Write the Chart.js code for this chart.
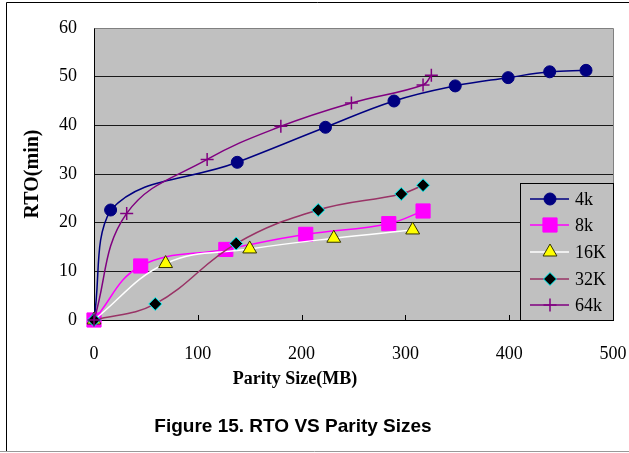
<!DOCTYPE html>
<html>
<head>
<meta charset="utf-8">
<script src="https://cdn.jsdelivr.net/npm/chart.js@4.4.0/dist/chart.umd.min.js"></script>
<style>
    html, body { margin: 0; padding: 0; background: #fff; }
    canvas { display: block; }
</style>
</head>
<body>
<canvas id="rtoChart" width="629" height="453"></canvas>
<script>
// Values (parity size in MB, RTO in minutes)
const seriesNames = ['4k', '8k', '16K', '32K', '64k'];

const size4k = [0, 16, 138, 223, 289, 348, 399, 439, 474];
const rto4k = [0, 22.6, 32.4, 39.6, 45.0, 48.1, 49.8, 51.0, 51.3];

const size8k = [0, 45, 127, 204, 284, 317];
const rto8k = [0, 11.1, 14.5, 17.6, 19.8, 22.4];

const size16k = [0, 69, 150, 231, 307];
const rto16k = [0, 11.6, 14.6, 16.8, 18.5];

const size32k = [0, 59, 137, 216, 296, 317];
const rto32k = [0, 3.3, 15.7, 22.6, 25.9, 27.7];

const size64k = [0, 31.5, 109, 180, 248, 317, 325];
const rto64k = [0, 21.9, 33.0, 39.8, 44.6, 48.3, 50.3];

const xTicks = [0, 100, 200, 300, 400, 500];
const yTicks = [0, 10, 20, 30, 40, 50, 60];

const xTitleText = 'Parity Size(MB)';
const captionText = 'Figure 15. RTO VS Parity Sizes';

function toPoints(xs, ys) {
    return xs.map((x, i) => ({ x: x, y: ys[i] }));
}

// Excel-like styles per series
const styles = [
    { line: '#000080', fill: '#000080', edge: '#000080', shape: 'circle', r: 6, bw: 1 },
    { line: '#FF00FF', fill: '#FF00FF', edge: '#FF00FF', shape: 'rect', r: 10, bw: 1 },
    { line: '#FFFFFF', fill: '#FFFF00', edge: '#333300', shape: 'triangle', r: 8, bw: 1 },
    { line: '#993366', fill: '#000000', edge: '#00FFFF', shape: 'rectRot', r: 6.5, bw: 1 },
    { line: '#800080', fill: '#800080', edge: '#800080', shape: 'cross', r: 6.5, bw: 1.5 }
];
const seriesData = [
    toPoints(size4k, rto4k),
    toPoints(size8k, rto8k),
    toPoints(size16k, rto16k),
    toPoints(size32k, rto32k),
    toPoints(size64k, rto64k)
];

const datasets = seriesNames.map((name, i) => ({
    label: name,
    data: seriesData[i],
    showLine: true,
    tension: 0.4,
    borderColor: styles[i].line,
    borderWidth: 1.5,
    pointStyle: styles[i].shape,
    pointRadius: styles[i].r,
    pointBackgroundColor: styles[i].fill,
    pointBorderColor: styles[i].edge,
    pointBorderWidth: styles[i].bw,
    clip: false,
    order: seriesNames.length - i
}));

const serif = '"Liberation Serif", "Times New Roman", serif';

// White page, outer frame, grey plot background, x title and caption
const backdrop = {
    id: 'backdrop',
    beforeDraw(chart) {
        const ctx = chart.ctx;
        const a = chart.chartArea;
        ctx.save();
        ctx.fillStyle = '#fff';
        ctx.fillRect(0, 0, chart.width, chart.height);
        ctx.fillStyle = '#C0C0C0';
        ctx.fillRect(a.left, a.top, a.right - a.left, a.bottom - a.top);
        ctx.strokeStyle = '#000';
        ctx.lineWidth = 1;
        ctx.beginPath();
        ctx.moveTo(6.5, 451);
        ctx.lineTo(6.5, 2.5);
        ctx.lineTo(chart.width, 2.5);
        ctx.stroke();
        ctx.strokeStyle = '#999';
        ctx.beginPath();
        ctx.moveTo(0, 451.5);
        ctx.lineTo(chart.width, 451.5);
        ctx.stroke();
        ctx.fillStyle = '#000';
        ctx.textAlign = 'center';
        ctx.textBaseline = 'middle';
        ctx.font = 'bold 18px ' + serif;
        ctx.fillText(xTitleText, 295, 379);
        ctx.font = 'bold 19px "Liberation Sans", Arial, sans-serif';
        ctx.fillText(captionText, 293, 427);
        ctx.restore();
    },
    beforeDatasetsDraw(chart) {
        const ctx = chart.ctx;
        const a = chart.chartArea;
        const xs = chart.scales.x;
        ctx.save();
        // grey top / right edge of the plot
        ctx.strokeStyle = '#808080';
        ctx.lineWidth = 1;
        ctx.beginPath();
        ctx.moveTo(Math.round(a.left) + 0.5, Math.round(a.top) + 0.5);
        ctx.lineTo(Math.round(a.right) + 0.5, Math.round(a.top) + 0.5);
        ctx.lineTo(Math.round(a.right) + 0.5, Math.round(a.bottom) + 0.5);
        ctx.stroke();
        // short inward tick marks on the x axis
        ctx.strokeStyle = '#000';
        ctx.beginPath();
        xs.ticks.forEach(t => {
            const px = Math.round(xs.getPixelForValue(t.value)) + 0.5;
            ctx.moveTo(px, a.bottom);
            ctx.lineTo(px, a.bottom - 5);
        });
        ctx.stroke();
        ctx.restore();
    }
};

// Boxed legend drawn over the lower right of the plot
const boxLegend = {
    id: 'boxLegend',
    afterDraw(chart) {
        const ctx = chart.ctx;
        const left = 520, top = 183, width = 93, height = 137;
        const rowStart = 198.5, rowGap = 26.7;
        ctx.save();
        ctx.fillStyle = '#C0C0C0';
        ctx.fillRect(left, top, width, height);
        ctx.strokeStyle = '#000';
        ctx.lineWidth = 1;
        ctx.strokeRect(left + 0.5, top + 0.5, width, height);
        ctx.font = '18px ' + serif;
        ctx.textBaseline = 'middle';
        ctx.textAlign = 'left';
        seriesNames.forEach((name, i) => {
            const y = Math.round(rowStart + i * rowGap);
            const st = styles[i];
            ctx.strokeStyle = st.line;
            ctx.lineWidth = 1.5;
            ctx.beginPath();
            ctx.moveTo(530, y);
            ctx.lineTo(569, y);
            ctx.stroke();
            ctx.fillStyle = st.fill;
            ctx.strokeStyle = st.edge;
            ctx.lineWidth = st.bw;
            Chart.helpers.drawPoint(ctx, { pointStyle: st.shape, radius: st.r, rotation: 0, borderWidth: st.bw }, 550, y);
            ctx.fillStyle = '#000';
            ctx.fillText(name, 575, y + 1);
        });
        ctx.restore();
    }
};

new Chart(document.getElementById('rtoChart').getContext('2d'), {
    type: 'scatter',
    data: { datasets: datasets },
    options: {
        responsive: false,
        animation: false,
        events: [],
        layout: { padding: { left: 0, top: 28, right: 16, bottom: 53 } },
        plugins: {
            legend: { display: false },
            tooltip: { enabled: false },
            title: { display: false }
        },
        scales: {
            x: {
                type: 'linear',
                min: 0,
                max: 500,
                afterBuildTicks: scale => { scale.ticks = xTicks.map(v => ({ value: v })); },
                afterFit: scale => {
                    scale.height = 80;
                    scale.paddingLeft = 0;
                    scale.paddingRight = 0;
                },
                grid: { display: false, drawTicks: false },
                border: { display: true, color: '#000', width: 1 },
                ticks: {
                    color: '#000',
                    padding: 23,
                    maxRotation: 0,
                    font: { family: serif, size: 18 }
                },
                title: { display: false }
            },
            y: {
                type: 'linear',
                min: 0,
                max: 60,
                afterBuildTicks: scale => { scale.ticks = yTicks.map(v => ({ value: v })); },
                afterFit: scale => { scale.width = 94; },
                grid: {
                    drawTicks: false,
                    color: c => (c.tick && c.tick.value === 60 ? '#808080' : '#1a1a1a'),
                    lineWidth: 1
                },
                border: { display: true, color: '#000', width: 1 },
                ticks: {
                    color: '#000',
                    padding: 17,
                    font: { family: serif, size: 18 }
                },
                title: {
                    display: true,
                    text: 'RTO(min)',
                    color: '#000',
                    font: { family: serif, size: 20, weight: 'bold' },
                    padding: { top: 21, bottom: 0 }
                }
            }
        }
    },
    plugins: [backdrop, boxLegend]
});
</script>
</body>
</html>
